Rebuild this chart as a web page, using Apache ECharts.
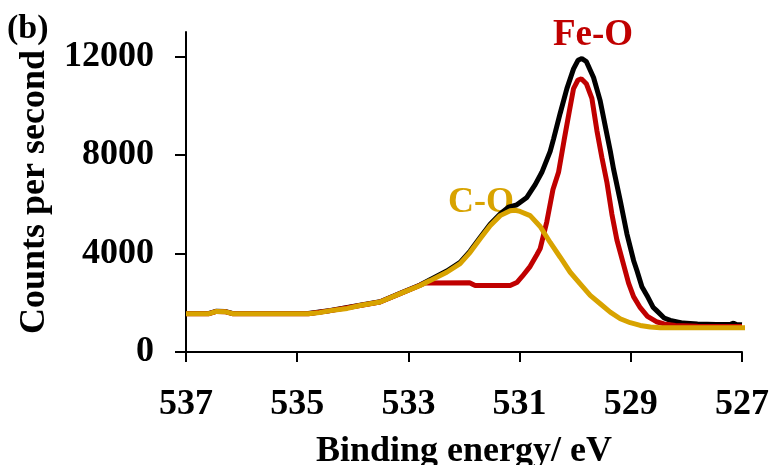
<!DOCTYPE html>
<html lang="en">
    <head>
        <title>O 1s spectrum (b)</title>
        <meta charset="utf-8">
        <script src='https://cdn.jsdelivr.net/npm/echarts@6.0.0/dist/echarts.min.js'></script>
    </head>

    <style>
        html, body, #main {
            width: 100%;
            height: 100%;
            margin: 0;
            background: #fff;
        }
    </style>

    <body>
        <div id='main'></div>

        <script>
            // binding energy (eV) / counts per second
            const totalEnergy = [537.0, 536.6, 536.45, 536.3, 536.15, 534.8, 534.4, 533.87, 533.51, 533.15, 532.79, 532.61, 532.31, 532.07, 531.89, 531.71, 531.53, 531.35, 531.2, 531.05, 530.87, 530.72, 530.6, 530.45, 530.39, 530.27, 530.15, 530.03, 529.95, 529.88, 529.8, 529.67, 529.55, 529.43, 529.37, 529.31, 529.19, 529.07, 528.95, 528.89, 528.8, 528.71, 528.6, 528.54, 528.4, 528.29, 528.06, 527.8, 527.46, 527.2, 527.15, 527.1, 527.0];
            const totalCounts = [1560, 1560, 1660, 1650, 1560, 1565, 1690, 1900, 2040, 2380, 2720, 2940, 3290, 3640, 4100, 4650, 5190, 5610, 5880, 5980, 6280, 6800, 7300, 8150, 8650, 9700, 10700, 11500, 11850, 11920, 11800, 11150, 10200, 8850, 8175, 7430, 6150, 4800, 3720, 3310, 2650, 2300, 1820, 1690, 1380, 1285, 1175, 1140, 1120, 1130, 1170, 1120, 1110];

            const feoEnergy = [537.0, 536.6, 536.45, 536.3, 536.15, 534.8, 534.4, 533.87, 533.51, 533.15, 532.85, 532.7, 531.9, 531.8, 531.17, 531.05, 530.95, 530.81, 530.69, 530.63, 530.51, 530.4, 530.3, 530.2, 530.1, 530.03, 529.95, 529.89, 529.8, 529.7, 529.61, 529.52, 529.43, 529.34, 529.25, 529.13, 529.04, 528.95, 528.83, 528.7, 528.54, 528.4, 528.2, 527.8, 527.0];
            const feoCounts = [1550, 1550, 1650, 1640, 1550, 1555, 1680, 1890, 2030, 2370, 2650, 2800, 2810, 2700, 2700, 2820, 3080, 3480, 3950, 4200, 5300, 6600, 7300, 8600, 9850, 10700, 11050, 11100, 10900, 10300, 9000, 7900, 6900, 5600, 4550, 3550, 2800, 2250, 1800, 1450, 1230, 1140, 1080, 1050, 1040];

            const coEnergy = [537.0, 536.6, 536.45, 536.3, 536.15, 534.8, 534.6, 534.4, 534.1, 533.87, 533.51, 533.15, 532.79, 532.61, 532.31, 532.07, 531.89, 531.71, 531.53, 531.35, 531.17, 531.08, 530.99, 530.81, 530.63, 530.45, 530.27, 530.09, 529.91, 529.73, 529.55, 529.37, 529.19, 529.01, 528.83, 528.65, 528.47, 527.0, 526.88];
            const coCounts = [1550, 1550, 1650, 1640, 1550, 1555, 1600, 1680, 1770, 1890, 2030, 2370, 2700, 2900, 3240, 3590, 4050, 4600, 5130, 5540, 5740, 5760, 5710, 5540, 5100, 4450, 3850, 3240, 2770, 2300, 1960, 1620, 1350, 1190, 1080, 1015, 990, 990, 990];

            const xTicks = [537, 535, 533, 531, 529, 527];
            const yTicks = [0, 4000, 8000, 12000];

            const zip = (xs, ys) => xs.map((x, i) => [x, ys[i]]);

            const font = "'Liberation Serif', 'Times New Roman', serif";
            const RED = '#c00000';
            const GOLD = '#d8a300';

            const chart = echarts.init(document.getElementById('main'));

            const option = {
                animation: false,
                grid: { left: 186, right: 40, top: 32, bottom: 113, outerBoundsMode: 'none' },
                xAxis: {
                    type: 'value',
                    inverse: true,
                    min: 527,
                    max: 537,
                    name: 'Binding energy/ eV',
                    nameLocation: 'middle',
                    nameGap: 82,
                    nameTextStyle: { fontFamily: font, fontWeight: 'bold', fontSize: 36, color: '#000' },
                    axisLine: { onZero: false, lineStyle: { color: '#000', width: 2 } },
                    axisTick: { customValues: xTicks, length: 10, lineStyle: { color: '#000', width: 2 } },
                    axisLabel: { customValues: xTicks, margin: 35, fontFamily: font, fontWeight: 'bold', fontSize: 36, color: '#000',
                        formatter: v => String(v) },
                    splitLine: { show: false }
                },
                yAxis: {
                    type: 'value',
                    min: 0,
                    max: 13000,
                    name: 'Counts per second',
                    nameLocation: 'middle',
                    nameGap: 126,
                    nameTextStyle: { fontFamily: font, fontWeight: 'bold', fontSize: 36, color: '#000' },
                    axisLine: { show: true, lineStyle: { color: '#000', width: 2 } },
                    axisTick: { show: true, customValues: yTicks, length: 11, lineStyle: { color: '#000', width: 2 } },
                    axisLabel: { customValues: yTicks, margin: 32, fontFamily: font, fontWeight: 'bold', fontSize: 36, color: '#000',
                        formatter: v => String(v) },
                    splitLine: { show: false }
                },
                graphic: [
                    { type: 'text', left: 7, top: 12, style: { text: '(b)', font: 'bold 34px ' + font, fill: '#000' } },
                    { type: 'text', left: 553, top: 17, style: { text: 'Fe-O', font: 'bold 37px ' + font, fill: RED } },
                    { type: 'text', left: 448, top: 185, style: { text: 'C-O', font: 'bold 36px ' + font, fill: GOLD } }
                ],
                series: [
                    {
                        name: 'Total',
                        type: 'line',
                        data: zip(totalEnergy, totalCounts),
                        showSymbol: false,
                        clip: false,
                        lineStyle: { color: '#000', width: 5 }
                    },
                    {
                        name: 'Fe-O',
                        type: 'line',
                        data: zip(feoEnergy, feoCounts),
                        showSymbol: false,
                        clip: false,
                        lineStyle: { color: RED, width: 5 }
                    },
                    {
                        name: 'C-O',
                        type: 'line',
                        data: zip(coEnergy, coCounts),
                        showSymbol: false,
                        clip: false,
                        lineStyle: { color: GOLD, width: 5 }
                    }
                ]
            };

            chart.setOption(option);

            window.onresize = function () {
                chart.resize();
            }
        </script>
    </body>
</html>
